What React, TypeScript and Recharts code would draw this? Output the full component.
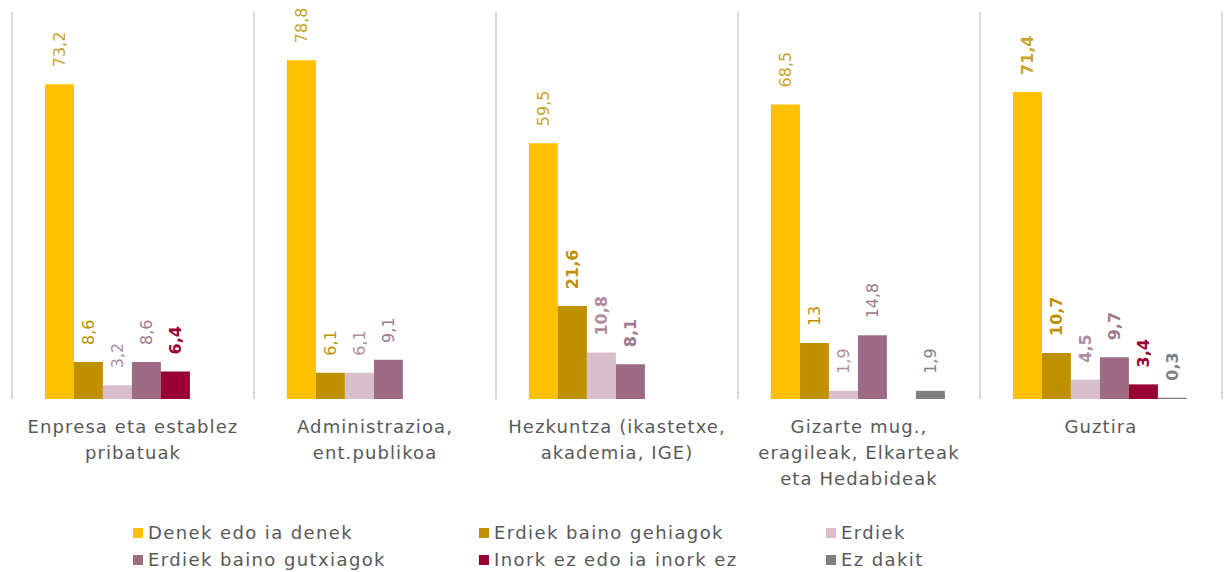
import { BarChart, Bar, XAxis, YAxis, CartesianGrid, LabelList, Legend } from 'recharts'

/* ── data ── */

const categories = ['Enpresa', 'Administrazioa', 'Hezkuntza', 'Gizarte', 'Guztira']
const categoryLines = [
  ['Enpresa eta establez', 'pribatuak'],
  ['Administrazioa,', 'ent.publikoa'],
  ['Hezkuntza (ikastetxe,', 'akademia, IGE)'],
  ['Gizarte mug.,', 'eragileak, Elkarteak', 'eta Hedabideak'],
  ['Guztira'],
]

const denek = [73.2, 78.8, 59.5, 68.5, 71.4]
const gehiago = [8.6, 6.1, 21.6, 13, 10.7]
const erdiek = [3.2, 6.1, 10.8, 1.9, 4.5]
const gutxiago = [8.6, 9.1, 8.1, 14.8, 9.7]
const inork = [6.4, null, null, null, 3.4]
const ezDakit = [null, null, null, 1.9, 0.3]

// which labels are drawn in bold (series key -> category indexes)
const boldLabels: Record<string, number[]> = {
  denek: [4],
  gehiago: [2, 4],
  erdiek: [2, 4],
  gutxiago: [2, 4],
  inork: [0, 4],
  ezDakit: [4],
}

const series = [
  { key: 'denek', name: 'Denek edo ia denek', fill: '#FFC000', label: '#C9A22A' },
  { key: 'gehiago', name: 'Erdiek baino gehiagok', fill: '#BF9000', label: '#BF9000' },
  { key: 'erdiek', name: 'Erdiek', fill: '#D9BFCC', label: '#B08CA0' },
  { key: 'gutxiago', name: 'Erdiek baino gutxiagok', fill: '#9E6B85', label: '#9E7890' },
  { key: 'inork', name: 'Inork ez edo ia inork ez', fill: '#990033', label: '#990033' },
  { key: 'ezDakit', name: 'Ez dakit', fill: '#808080', label: '#808080' },
]

const values: Record<string, (number | null)[]> = { denek, gehiago, erdiek, gutxiago, inork, ezDakit }

const data = categories.map((c, i) => {
  const row: Record<string, string | number | null> = { name: c }
  series.forEach((s) => { row[s.key] = values[s.key][i] })
  return row
})

const FONT = '"DejaVu Sans", sans-serif'
const TEXT = '#595959'

/* ── pieces ── */

function CategoryTick(props: any) {
  const { x, y, payload } = props
  const lines = categoryLines[payload.index] || []
  return (
    <text x={x} y={y} textAnchor="middle" fill={TEXT} fontSize={18} fontFamily={FONT} letterSpacing={1.1}>
      {lines.map((l, i) => (
        <tspan key={i} x={x} dy={i === 0 ? 34 : 26}>{l}</tspan>
      ))}
    </text>
  )
}

function makeLabel(key: string, color: string) {
  return (props: any) => {
    const { x, y, width, value } = props
    if (value == null) return null
    const cx = x + width / 2
    const ty = y - 17
    // LabelList skips empty points, so look the category up by value
    const idx = values[key].indexOf(value)
    const bold = (boldLabels[key] || []).includes(idx)
    return (
      <text
        x={cx}
        y={ty}
        dy="0.35em"
        transform={`rotate(-90, ${cx}, ${ty})`}
        textAnchor="start"
        fill={color}
        fontSize={16}
        fontWeight={bold ? 700 : 400}
        fontFamily={FONT}
      >
        {String(value).replace('.', ',')}
      </text>
    )
  }
}

function LegendBox() {
  return (
    <div style={{ height: 56, paddingTop: 3, boxSizing: 'border-box', paddingLeft: 133, fontFamily: FONT, fontSize: 18, color: TEXT, letterSpacing: 1.4 }}>
      <div style={{ display: 'grid', gridTemplateColumns: '346px 347px 300px' }}>
        {series.map((s) => (
          <div key={s.key} style={{ display: 'flex', alignItems: 'center', height: 27, whiteSpace: 'nowrap' }}>
            <span style={{ width: 10, height: 10, background: s.fill, marginRight: 5, display: 'inline-block' }} />
            {s.name}
          </div>
        ))}
      </div>
    </div>
  )
}

// separators sit on the category band edges
const bandEdges = ({ offset }: any) =>
  categories.concat(['']).map((_, i) => offset.left + (i * offset.width) / categories.length)

export default function App() {
  return (
    <div style={{ position: 'absolute', left: 0, top: 0, background: '#fff' }}>
      <BarChart
        width={1226}
        height={572}
        data={data}
        margin={{ top: 12, right: 4, bottom: 0, left: 12 }}
        barCategoryGap="13.6%"
        barGap={0}
      >
        <CartesianGrid horizontal={false} stroke="#D9D9D9" strokeWidth={2} verticalCoordinatesGenerator={bandEdges} />
        <XAxis
          dataKey="name"
          axisLine={false}
          tickLine={false}
          tickSize={0}
          tickMargin={0}
          height={117}
          interval={0}
          tick={<CategoryTick />}
        />
        <YAxis hide domain={[0, 90]} />
        <Legend verticalAlign="bottom" wrapperStyle={{ left: 0, width: 1226 }} content={<LegendBox />} />
        {series.map((s) => (
          <Bar key={s.key} dataKey={s.key} name={s.name} fill={s.fill} isAnimationActive={false}>
            <LabelList dataKey={s.key} content={makeLabel(s.key, s.label)} />
          </Bar>
        ))}
      </BarChart>
    </div>
  )
}
